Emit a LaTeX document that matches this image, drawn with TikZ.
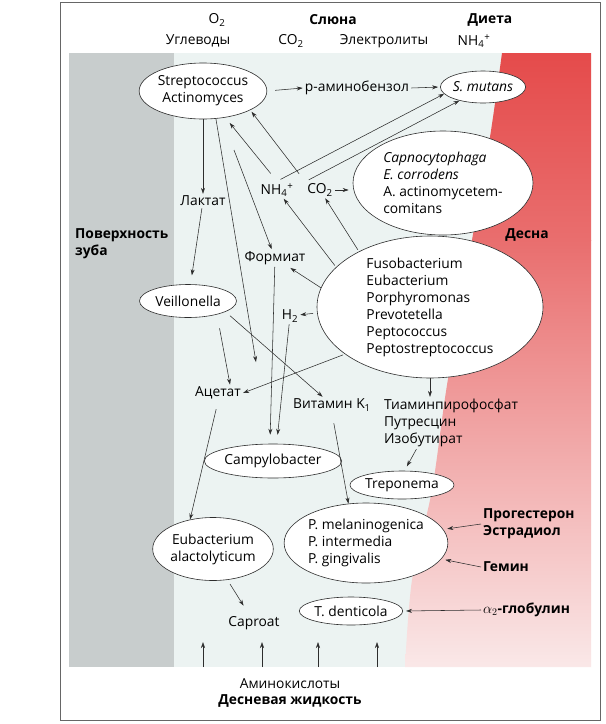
\documentclass[tikz,border=0pt]{standalone}
\usepackage{fontspec}
\setmainfont{Open Sans}
\usetikzlibrary{shapes.geometric, arrows.meta, positioning, calc}

\definecolor{toothgray}{RGB}{200,205,205}
\definecolor{plaque}{RGB}{236,243,242}
\definecolor{gumtop}{RGB}{229,75,75}
\definecolor{gummid}{RGB}{233,110,110}
\definecolor{gumlow}{RGB}{250,232,232}
\definecolor{linegray}{RGB}{45,45,45}

\begin{document}
\begin{tikzpicture}[
    x=1pt, y=-1pt,
    font=\fontsize{13.8}{17}\selectfont,
    bact/.style={ellipse, draw=linegray, fill=white, line width=0.6pt, inner sep=0pt, align=center},
    chem/.style={inner sep=2pt, align=center},
    hdr/.style={inner sep=2pt, font=\fontsize{13.8}{17}\selectfont\bfseries},
    arr/.style={-{Stealth[length=6pt, width=4pt]}, line width=0.55pt, draw=linegray}
]

% Background zones
\useasboundingbox (0,0) rectangle (606,724);
\fill[white] (0,0) rectangle (606,724);
\draw[gray!80!black, line width=0.7pt] (60,2) rectangle (600,720);
\fill[plaque] (69,53) rectangle (591,667);
\fill[toothgray] (69,53) rectangle (174,667);
\begin{scope}
  \clip plot[smooth] coordinates {(405,667) (412,580) (432,490) (447,385) (472,240) (490,137) (502,53)} -- (591,53) -- (591,667) -- cycle;
  \shade[top color=gumtop, bottom color=gummid] (400,53) rectangle (591,240);
  \shade[top color=gummid, bottom color=gumlow] (400,240) rectangle (591,667);
\end{scope}

% Sources
\node[chem] (oxy) at (217,20) {O\textsubscript{2}};
\node[hdr] (saliva) at (333,20) {Слюна};
\node[hdr] (diet) at (490,20) {Диета};
\node[chem] (carb) at (198,41) {Углеводы};
\node[chem] (cotop) at (291,41) {CO\textsubscript{2}};
\node[chem] (electr) at (384,41) {Электролиты};
\node[chem] (nhtop) at (474,41) {NH\textsubscript{4}\textsuperscript{+}};
\node[hdr, align=left, anchor=west] (tooth) at (73,244) {Поверхность\\зуба};
\node[hdr] (gum) at (527,235) {Десна};

% Bacteria and metabolites
\node[bact, minimum width=126pt, minimum height=56pt] (strep) at (203,91) {Streptococcus\\Actinomyces};
\node[chem] (pamino) at (357,88) {p-аминобензол};
\node[bact, minimum width=84pt, minimum height=32pt] (smut) at (483,87) {\textit{S. mutans}};
\node[bact, align=left, minimum width=180pt, minimum height=104pt] (capno) at (443,183) {\textit{Capnocytophaga}\\\textit{E. corrodens}\\A. actinomycetem-\\comitans};
\node[chem] (nh) at (277,190) {NH\textsubscript{4}\textsuperscript{+}};
\node[chem] (co) at (320,190) {CO\textsubscript{2}};
\node[chem] (lakt) at (203,201) {Лактат};
\node[chem] (form) at (275,258) {Формиат};
\node[bact, align=left, minimum width=226pt, minimum height=142pt] (fuso) at (430,307) {Fusobacterium\\Eubacterium\\Porphyromonas\\Prevotetella\\Peptococcus\\Peptostreptococcus};
\node[bact, minimum width=97pt, minimum height=33pt] (veil) at (188,301) {Veillonella};
\node[chem] (htwo) at (290,316) {H\textsubscript{2}};
\node[chem] (acet) at (218,393) {Ацетат};
\node[chem] (vitk) at (332,405) {Витамин K\textsubscript{1}};
\node[chem, align=left] (tiam) at (451,423) {Тиаминпирофосфат\\Путресцин\\Изобутират};
\node[bact, minimum width=123pt, minimum height=34pt] (campy) at (273,461) {Campylobacter};
\node[bact, minimum width=100pt, minimum height=28pt] (trep) at (402,485) {Treponema};
\node[bact, align=left, minimum width=158pt, minimum height=80pt] (pmel) at (366,543) {P. melaninogenica\\P. intermedia\\P. gingivalis};
\node[bact, minimum width=120pt, minimum height=63pt] (eubac) at (213,549) {Eubacterium\\alactolyticum};
\node[hdr, align=left, anchor=west] (progest) at (481,524) {Прогестерон\\Эстрадиол};
\node[hdr, anchor=west] (gemin) at (481,567) {Гемин};
\node[chem] (caproat) at (254,623) {Caproat};
\node[bact, minimum width=98pt, minimum height=28pt] (tdent) at (351,611) {T. denticola};
\node[hdr, anchor=west] (globul) at (481,610) {$\alpha_2$-глобулин};
\node[chem] (amino) at (290,684) {Аминокислоты};
\node[hdr, below=1pt of amino] (fluid) {Десневая жидкость};

% Free ends
\coordinate (acetin) at (256,362);
\coordinate (formout) at (234,150);

% Metabolic links
\draw[arr, shorten <=8pt] (strep.east) -- (pamino.west);
\draw[arr, shorten >=2pt] (pamino.east) -- (smut.west);
\draw[arr, shorten <=4pt] (nh.north) -- (smut.190);
\draw[arr, shorten <=4pt] (co.north west) -- (smut.210);
\draw[arr, shorten <=10pt, shorten >=7pt] (nh.north) -- (strep.-50);
\draw[arr, shorten <=10pt, shorten >=2pt] (co.north west) -- (strep.-22);
\draw[arr] (strep) -- (lakt);
\draw[arr] (strep.-65) -- (acetin);
\draw[arr] (formout) -- (form);
\draw[arr, shorten >=4pt] (co.east) -- (co.east -| capno.west);
\draw[arr, shorten <=2pt] (fuso.157) -- (nh);
\draw[arr, shorten <=2pt] (fuso.142) -- (co);
\draw[arr, shorten >=9pt] (lakt) -- (veil);
\draw[arr, shorten >=2pt] (fuso.170) -- (form);
\draw[arr, shorten <=4pt] (fuso.183) -- (htwo);
\draw[arr, shorten >=9pt] (form) -- (campy.100);
\draw[arr, shorten >=9pt] (htwo) -- (campy.78);
\draw[arr, shorten <=14pt] (veil.-25) -- (acet.35);
\draw[arr, shorten <=6pt] (veil.-16) -- (vitk);
\draw[arr, shorten <=2pt] (fuso.209) -- (acet.east);
\draw[arr] (fuso.south) -- (fuso.south |- tiam.north);
\draw[arr, shorten <=8pt] (acet.south) -- (eubac.128);
\draw[arr, shorten <=10pt] (vitk.south) -- (pmel.114);
\draw[arr, shorten >=5pt] ($(tiam.south west)!0.25!(tiam.south east)$) -- (trep.80);
\draw[arr, shorten <=5pt, shorten >=10pt] (eubac.-65) -- (caproat.120);

% Host factors
\draw[arr, shorten >=4pt] (progest.west) -- (pmel.10);
\draw[arr, shorten >=4pt] (gemin.west) -- (pmel.-12);
\draw[arr, shorten >=3pt] (globul.west) -- (tdent.east);

% Gingival fluid
\foreach \xx [count=\i] in {203,262,318,377} {
  \coordinate (fin\i) at (\xx,667);
  \coordinate (fout\i) at (\xx,642);
  \draw[arr] (fin\i) -- (fout\i);
}

\end{tikzpicture}
\end{document}
